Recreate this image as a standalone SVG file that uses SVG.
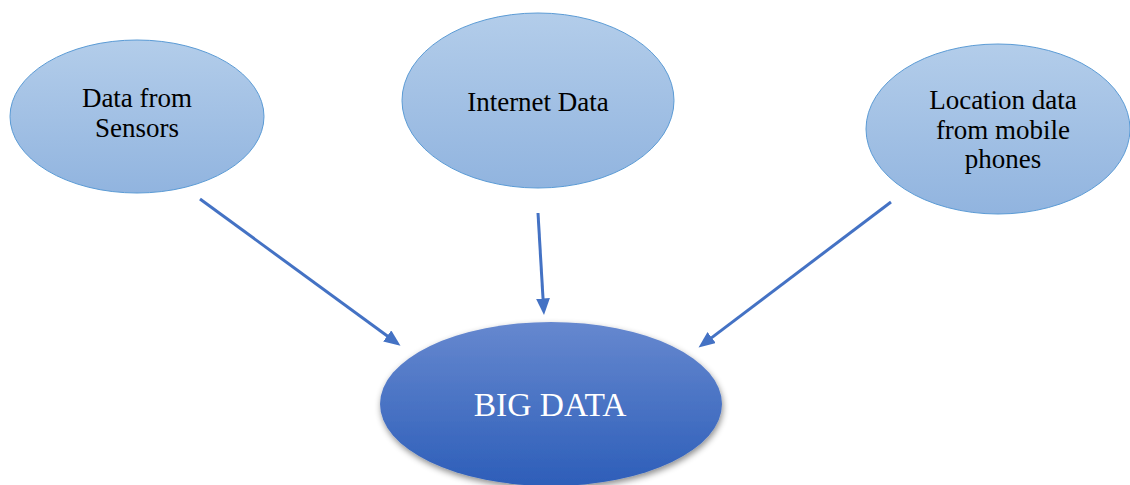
<svg xmlns="http://www.w3.org/2000/svg" width="1130" height="485" viewBox="0 0 1130 485">
  <defs>
    <linearGradient id="gSource" x1="0" y1="0" x2="0" y2="1">
      <stop offset="0" stop-color="#b3cdea"/>
      <stop offset="1" stop-color="#91b4df"/>
    </linearGradient>
    <linearGradient id="gHub" x1="0" y1="0" x2="0" y2="1">
      <stop offset="0" stop-color="#6688cf"/>
      <stop offset="1" stop-color="#2d5eb9"/>
    </linearGradient>
    <filter id="hubShadow" x="-10%" y="-10%" width="120%" height="130%">
      <feDropShadow dx="1" dy="3" stdDeviation="3" flood-color="#000" flood-opacity="0.45"/>
    </filter>
    <marker id="arrowHead" viewBox="0 0 5.5 4.6" refX="3.3" refY="2.3" markerWidth="5.5" markerHeight="4.6" orient="auto" markerUnits="strokeWidth">
      <path d="M0,0 L5.5,2.3 L0,4.6 z" fill="#4472c4"/>
    </marker>
    <style>
      .source { fill: url(#gSource); stroke: #5b9bd5; stroke-width: 1; }
      .label { font-family: "Liberation Serif", "Times New Roman", serif; font-size: 27px; fill: #000; text-anchor: middle; }
      .hubLabel { font-family: "Liberation Serif", "Times New Roman", serif; font-size: 33.5px; fill: #fff; text-anchor: middle; }
      .link { stroke: #4472c4; stroke-width: 3; fill: none; marker-end: url(#arrowHead); }
    </style>
  </defs>

  <g id="sensors">
    <ellipse class="source" cx="137" cy="116.5" rx="127" ry="76.5"/>
    <text class="label" x="137" y="107">Data from</text>
    <text class="label" x="137" y="137">Sensors</text>
  </g>

  <g id="internet">
    <ellipse class="source" cx="538" cy="100.5" rx="136" ry="87.5"/>
    <text class="label" x="538" y="111">Internet Data</text>
  </g>

  <g id="location">
    <ellipse class="source" cx="998" cy="129" rx="132" ry="85"/>
    <text class="label" x="1003" y="109">Location data</text>
    <text class="label" x="1003" y="139">from mobile</text>
    <text class="label" x="1003" y="168">phones</text>
  </g>

  <g id="bigdata">
    <ellipse cx="551" cy="404" rx="171" ry="82" fill="url(#gHub)" filter="url(#hubShadow)"/>
    <text class="hubLabel" x="550" y="416">BIG DATA</text>
  </g>

  <g id="connectors">
    <line class="link" x1="200" y1="199" x2="395.2" y2="341.8"/>
    <line class="link" x1="538" y1="213" x2="543.6" y2="308.4"/>
    <line class="link" x1="891" y1="202" x2="703.8" y2="343.6"/>
  </g>
</svg>
